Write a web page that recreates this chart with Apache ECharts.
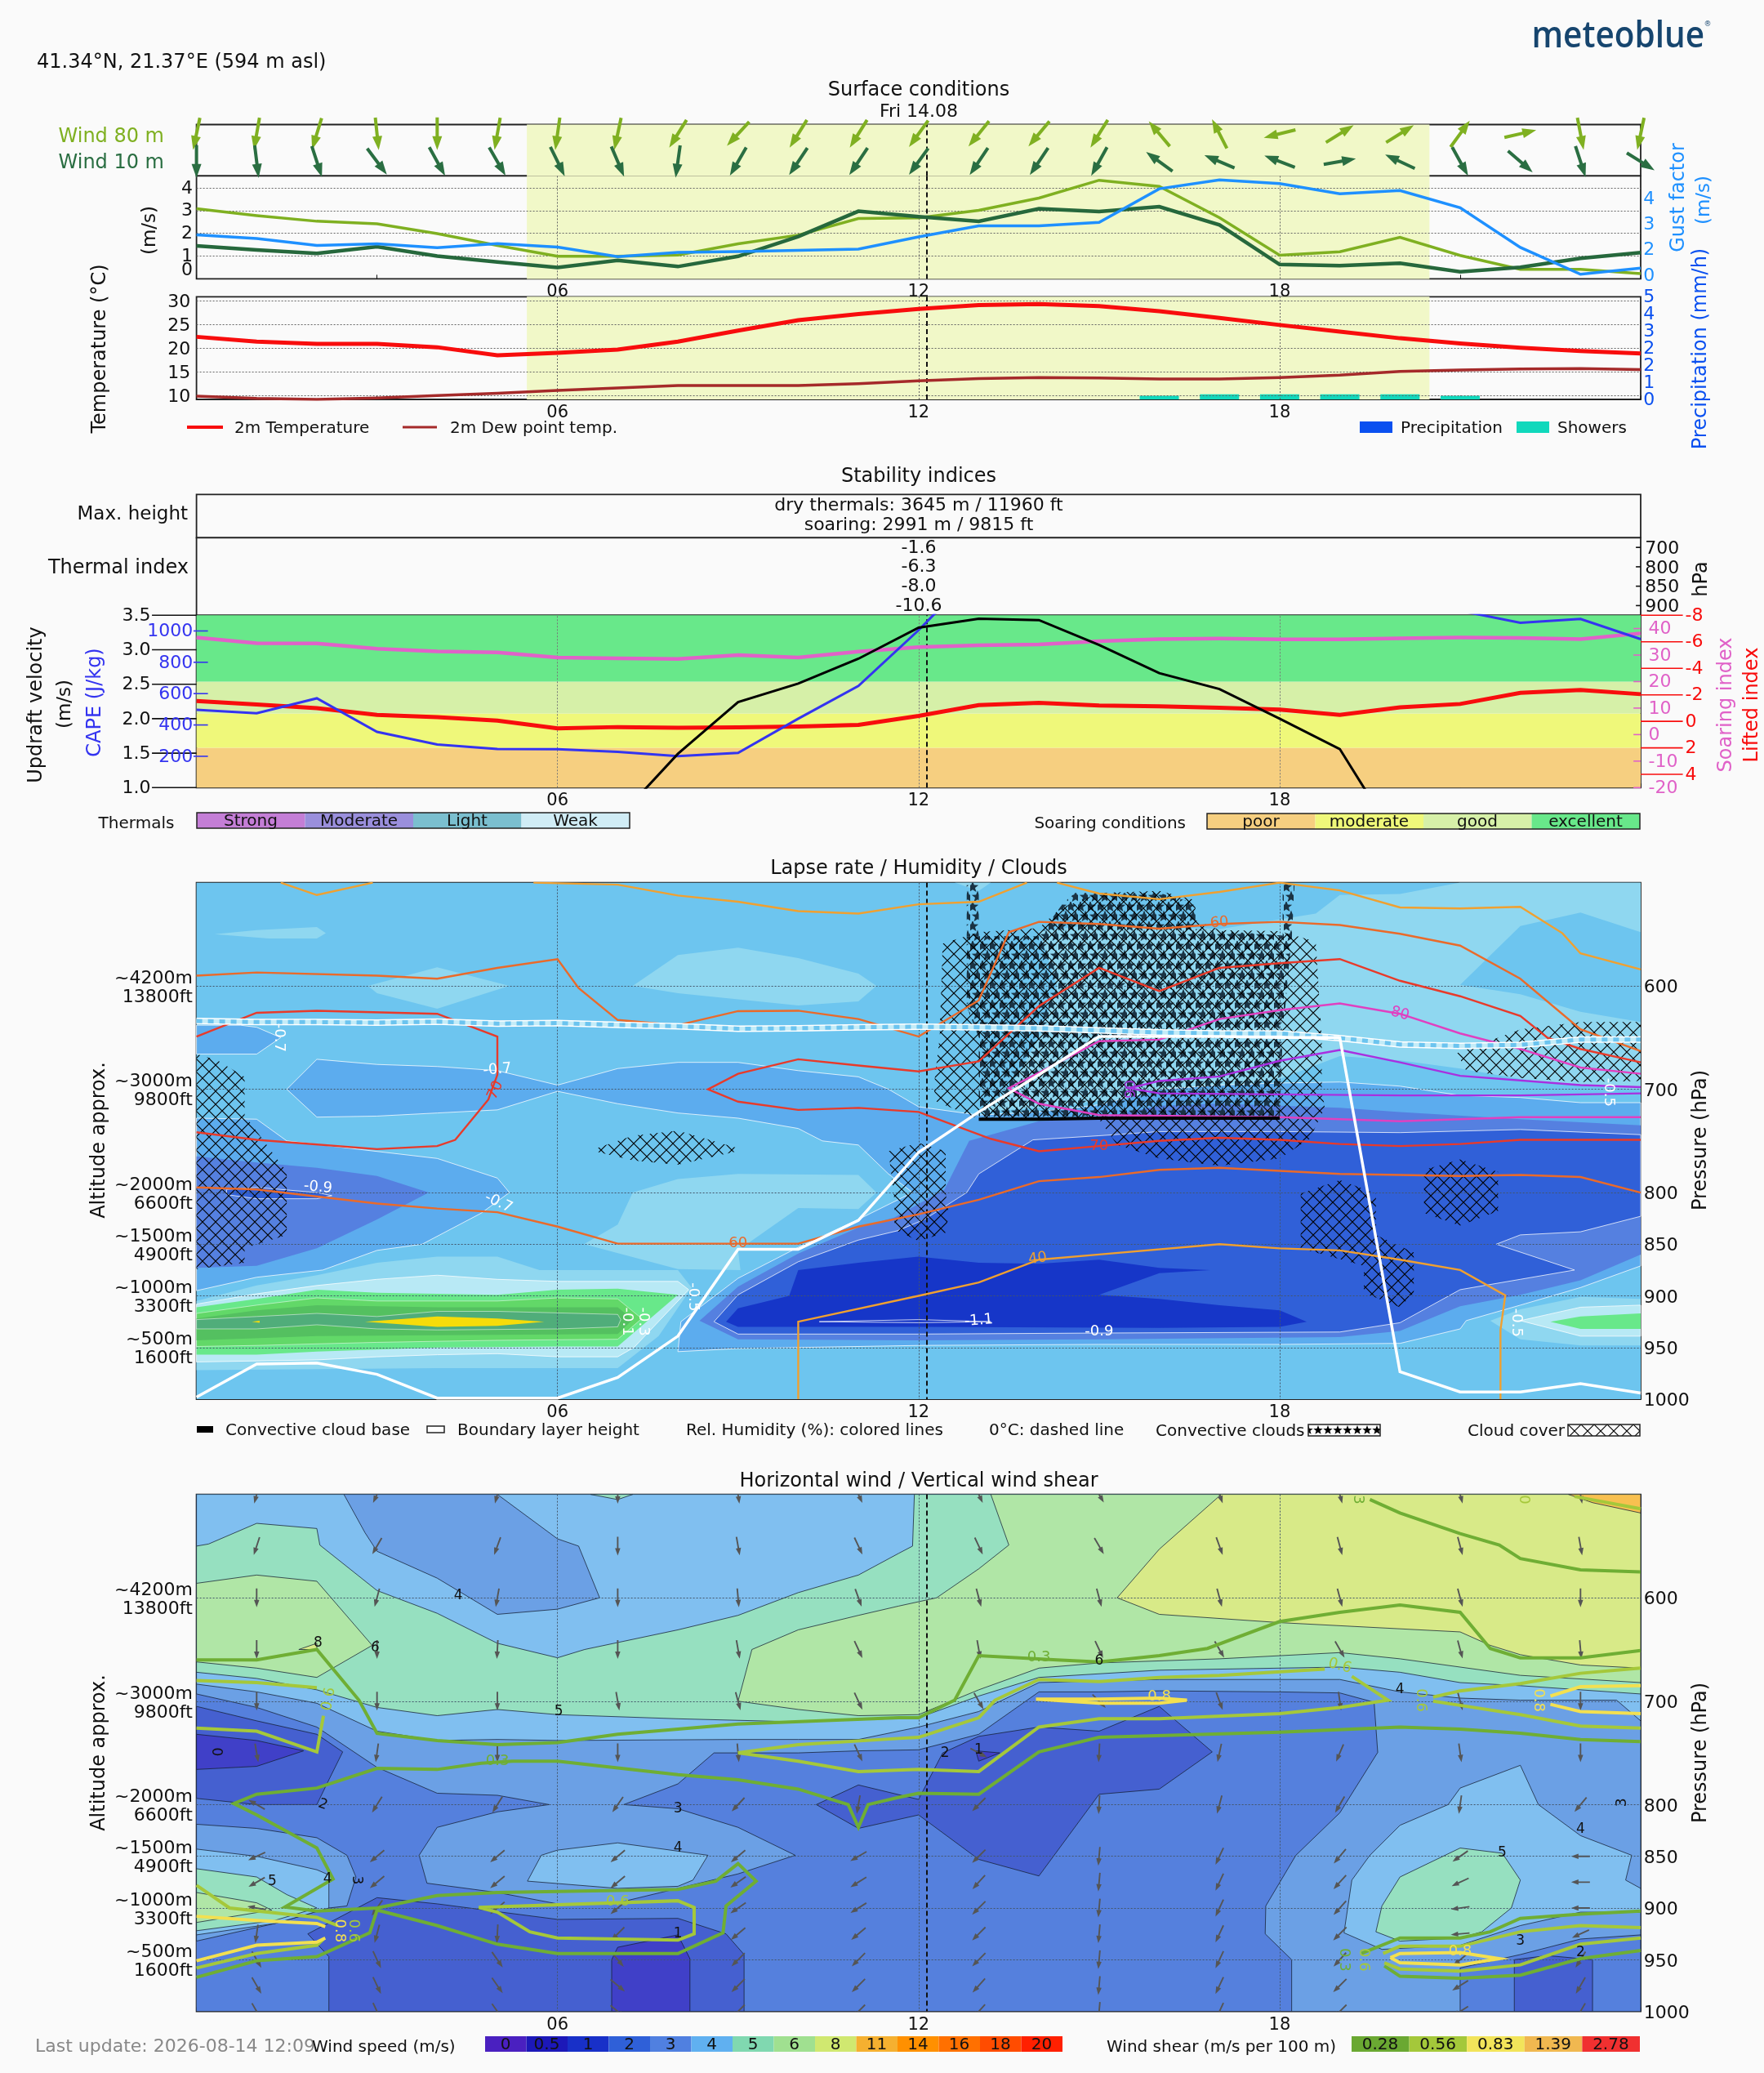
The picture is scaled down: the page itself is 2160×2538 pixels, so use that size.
<!DOCTYPE html>
<html><head><meta charset="utf-8"><style>html,body{margin:0;background:#fafafa}#c{width:2160px;height:2538px}</style>
<script src="https://cdn.jsdelivr.net/npm/echarts@6/dist/echarts.min.js"></script></head><body><div id="c"></div><script>
const hours=[0,1,2,3,4,5,6,7,8,9,10,11,12,13,14,15,16,17,18,19,20,21,22,23,24];
const hourLabels={6:'06',12:'12',18:'18'};
const sunrise=5.49,sunset=20.49,nowHour=12.13;
// surface
const bearing80=[192,190,197,174,180,190,188,192,212,223,212,212,216,219,220,212,320,333,256,58,58,36,77,169,192];
const bearing10=[180,173,162,143,151,150,154,157,188,210,214,214,216,214,214,209,306,293,291,80,295,151,131,162,122];
const windRows=[0.82,0.28];
const wind80=[3.08,2.78,2.53,2.42,1.99,1.47,.99,.99,1.05,1.54,1.92,2.65,2.68,3.01,3.55,4.33,4.06,2.69,1.04,1.19,1.82,1.03,.42,.42,.23];
const wind10=[1.45,1.27,1.12,1.41,1.0,.74,.5,.81,.54,.99,1.86,2.97,2.73,2.53,3.08,2.96,3.17,2.37,.63,.58,.69,.31,.51,.9,1.15];
const gust=[2.33,2.12,1.71,1.8,1.57,1.81,1.61,1.04,1.3,1.35,1.42,1.49,2.21,2.87,2.87,3.07,5.06,5.58,5.37,4.77,4.96,3.94,1.59,0,.36];
const temp2m=[22.4,21.4,20.9,20.9,20.2,18.5,19,19.7,21.4,23.7,25.9,27.2,28.3,29.1,29.3,28.9,27.8,26.4,24.9,23.5,22.1,21,20.1,19.4,18.9];
const dew2m=[9.9,9.4,9.2,9.5,10,10.5,11.1,11.6,12.1,12.1,12.1,12.5,13.1,13.6,13.8,13.7,13.5,13.5,13.8,14.3,15.1,15.4,15.6,15.7,15.5];
const showers=[[16,.18],[17,.25],[18,.25],[19,.25],[20,.25],[21,.18]];
const msTicks=[4,3,2,1,.39],msTickLabels=['4','3','2','1','0'];
const tempTicks=[10,15,20,25,30];
const gustTicks=[0,1.5,3,4.5],gustTickLabels=['0','2','3','4'];
const precipTicks=[0,.8333,1.6667,2.5,3.3333,4.1667,5],precipTickLabels=['0','1','2','2','3','4','5'];
// stability
const updraft=[null,null,null,null,null,null,null,.55,1.49,2.24,2.51,2.87,3.32,3.45,3.43,3.07,2.66,2.43,2.0,1.56,.16,null,null,null,null];
const cape=[497,475,570,356,275,247,245,228,201,222,440,649,1005,1396,1500,1500,1500,1500,1500,1500,1500,1129,1052,1077,948];
const soaring=[36.6,34.5,34.4,32.4,31.4,31,29.1,28.8,28.5,30,29.1,31.3,33,33.7,34,35.2,36,36.2,35.9,35.9,36.3,36.6,36.5,36,38.2];
const lifted=[-1.54,-1.27,-1,-.49,-.31,-.06,.53,.43,.49,.45,.39,.27,-.41,-1.23,-1.39,-1.19,-1.13,-1.03,-.88,-.49,-1.05,-1.31,-2.15,-2.36,-2.05];
const soaringLimits=[-20,-5,8,20,45];
const updraftTicks=[1,1.5,2,2.5,3,3.5],capeTicks=[200,400,600,800,1000],soaringTicks=[-20,-10,0,10,20,30,40],liftedTicks=[-8,-6,-4,-2,0,2,4];
const thermalHpa=['900','850','800','700'];
const thermalIndex=['-1.6','-6.3','-8.0','-10.6'];
const levelLabels=[[600,'~4200m\n13800ft'],[700,'~3000m\n9800ft'],[800,'~2000m\n6600ft'],[850,'~1500m\n4900ft'],[900,'~1000m\n3300ft'],[950,'~500m\n1600ft']];
const pressureTicks=[600,700,800,850,900,950,1000];
// lapse-rate bands [hour,hPa]
const lpFull=[[0,500],[24,500],[24,1000],[0,1000]];
const lpA=[[.3,550],[1,546],[2,543],[2.15,549],[2,554],[1.2,554]];
const lpB=[[2.85,600],[4,582],[5.2,600],[4,622],[3,607]];
const lpC=[[7.25,600],[8,570],[9,563],[10,573],[11,588],[11.3,600],[11,615],[10,619],[8,607]];
const lpD=[[6.44,850],[7,831],[7.25,800],[8,787],[9,782],[11,783],[11.3,800],[11,816],[10,815],[9,856],[9.04,875],[8,874]];
const lpTopL=[[14,547],[15,540],[17,545],[18.6,530],[19,512],[20,511],[21,500],[24,500],[24,700],[23,697],[22,690],[21,680],[20,672],[19,668],[18,690],[16,705],[14,718],[13,722],[13.5,700],[14,650],[14.3,600]];
const lpTopIsland=[[21,599],[22,542],[23,529],[24,548],[24,635],[23,625],[22,608]];
const lpTopTip=[[12.6,500],[13.2,500],[13,508]];
const lpMmain=[[1.5,700],[2,671],[3,676],[4,678],[5,682],[6,696],[7,680],[8,674],[9,674],[10,682],[11,688],[11.5,700],[12,717],[13,725],[14,722],[15,715],[16,700],[17,696],[18,694],[19,693],[20,697],[21,706],[22,708],[23,713],[24,713],[24,871],[23,892],[22,909],[21.1,924],[21,932],[20,946],[18,947],[15,947],[12,948],[10,950],[9,951],[8,954],[8.05,925],[9,883],[10,853],[11,826],[11.9,800],[11.5,782],[11,754],[10.4,750],[10,738],[9,728],[8,723],[7,714],[6,702],[5,720],[4,723],[3,726],[2,727]];
const lpMleft=[[0,728],[1,729],[1.5,750],[4,767],[5,786],[5.2,800],[4.73,820],[3.75,850],[3,856],[2.1,875],[1,882],[0,895]];
const lpMtop=[[0,638],[.73,638],[1,640],[1.4,650],[1,666],[0,666]];
const lpD5left=[[0,765],[1,771],[2,776],[3,784],[3.86,800],[3,826],[2,854],[1,871],[0,873]];
const lpD6left=[[.5,797],[1,795],[2,800],[2.25,803],[2,806],[1,806],[.5,802]];
const lpD5=[[8.36,924],[9,891],[10,859],[11,834],[11.6,824],[12.43,797],[12.84,750],[14,731],[15,728],[16,716],[17,714],[18,716],[19,718],[20,722],[22,729],[24,735],[24,860],[23,885],[22,899],[21,910],[20,934],[19,940],[15,942],[12,943],[9,942]];
const lpD6=[[8.6,925],[9,899],[10,867],[11,846],[11.65,837],[12.1,826],[12.8,800],[13,782],[13.9,749],[15,745],[16,741],[18,741],[20,742],[22,739],[24,744],[24,823],[23,838],[22,841],[21.6,850],[22.9,875],[22,884],[21,894],[20,926],[19,935],[15,936],[12,937],[9,937]];
const lpD7=[[8.8,925],[9,912],[9.85,900],[10,875],[11,868],[12,862],[13,868],[14,869],[15,865],[16,873],[16.85,875],[16,878],[15,899],[16,903],[17,909],[18,914],[18.45,925],[18,930],[16,931],[12,930],[9,930]];
const lpLens=[[10.35,925],[12,923],[13.2,925],[12,926]];
const lpL1=[[0,905],[1,890],[2,880],[3,868],[4,862],[5,862],[5.7,875],[8,875],[8.23,892],[7.68,939],[7,970],[4,970],[0,972]];
const lpL2=[[0,908],[1,898],[2,890],[3,884],[4,880],[5,884],[6,886],[8,886],[8.18,894],[7.27,950],[7,959],[6,959],[5,956],[4,957],[3,959],[2,962],[1,963],[0,964]];
const lpG1=[[0,911],[1,903],[2,894],[3,897],[5,899],[6,894],[7,893],[8,899],[7,949],[6,949],[4,950],[2,954],[1,957],[0,957]];
const lpG2=[[0,917],[1,909],[2,902],[3,905],[5,905],[6,902],[7,903],[7.4,922],[7,942],[5,943],[3,945],[1,948],[0,949]];
const lpG3=[[0,922],[1,914],[2,909],[4,911],[7,911],[7.25,923],[7,937],[2,939],[0,943]];
const lpG4=[[0,923],[1,920],[2,917],[3,920],[4,915],[5,915],[7,918],[7.05,923],[7,930],[6,932],[4,933],[3,932],[2,928],[1,932],[0,932]];
const lpY1=[[2.8,925],[4,920],[5,922],[5.78,925],[5,929],[4,930]];
const lpY2=[[.92,925],[1.05,924],[1.05,926]];
const lpRL1=[[21.5,924],[22,913],[23,901],[24,903],[24,948],[23,948],[22,942]];
const lpRL2=[[22,924],[23,911],[24,909],[24,939],[23,939]];
const lpRG1=[[22.5,925],[23,920],[24,917],[24,932],[23,932]];
// clouds
const cloud1=[[0,666],[.35,672],[.8,688],[.8,725],[1.5,780],[1.5,841],[.8,854],[.8,868],[0,874]];
const cloud2=[[6.55,759],[7.25,745],[8,740],[9,757],[9.06,759],[8,773],[7.25,769]];
const cloud3=[[12,752],[12.45,760],[12.45,800],[12.5,821],[12.45,839],[12,847],[11.6,836],[11.6,808],[11.5,760]];
const cloud4=[[15,510],[16,508],[16.6,517],[16.6,536],[17,546],[18,547],[18.6,557],[18.7,650],[18.7,700],[18.75,718],[18.5,748],[18,767],[17,774],[16,767],[15.3,754],[15,729],[13,729],[12.3,712],[12.25,699],[12.35,650],[12.4,559],[13,548],[14,544],[14.35,525]];
const cloud5=[[20.95,665],[22,642],[23,635],[24,635],[24,692],[23,693],[22,689],[21.1,682]];
const cloud6=[[20.4,778],[21,768],[21.63,780],[21.63,818],[21,832],[20.4,820]];
const cloud7=[[18.35,801],[19,788],[19.6,801],[19.6,841],[20.23,858],[20.23,897],[20,911],[19.4,897],[19.4,871],[18.35,854]];
const convLeft=[[12.8,500],[13,500],[13,552],[12.8,552]];
const convRight=[[18.05,500],[18.25,500],[18.2,556],[18.05,556]];
const convMain=[[12.8,552],[14,552],[14.4,520],[14.6,510],[16,510],[16.6,520],[16.6,545],[18.2,552],[18.05,650],[18,729],[13,729],[13,650],[12.8,620]];
// lines
const freezing=[634,635,635,635.5,634.6,636.5,636,637.7,639,641.5,641,640,639.5,640,641,643,645,646,646,650.5,656.6,658,657,652,652];
const boundaryH=[998,966,965,976,999,999,999,979,939,855,855,827,761,722,686,649,649,649,650,650,973.5,993,993,985,994];
const cloudBase=[[13,729],[14,729],[15,728],[16,728],[17,728],[18,728]];
const rhTopA=[[1.4,500],[2,512],[2.93,500]];
const rhTopB=[[5.6,500],[7,502],[8,512.5],[9,518.5],[10,527.6],[11,530],[12,521],[13,518.5],[13.8,500]];
const rhTopC=[[14.3,500],[15,510.6],[16,516],[17,509],[18,500],[19,507.5],[20,524],[21,525],[22,523.5],[22.7,549],[23,568.5],[24,584]];
const rh60up=[[0,590],[1,587],[3,590],[4,593],[5,582.5],[6,574],[6.35,602],[7,633],[8,638],[9,624.4],[10,624],[11,632],[12,649],[13,614],[13.5,548],[14,538],[15,540],[16,544.6],[17,540],[18,538],[19,541],[20,549.5],[21,561],[22,593],[23,642],[24,663]];
const rh70left=[[0,649],[1,626],[2,624],[4,627],[5,649],[5,686],[4.85,710],[4.3,749],[4,755],[3,758],[1,749],[0,741.7]];
const rh70mid=[[24,674],[23,661],[22.45,650],[22,629],[21,610],[20,595],[19,574],[18,578],[17,582.5],[16,605],[15,582.5],[14,619.5],[13,673],[12,682.7],[11,677],[10,671],[9,685],[8.5,700],[9,712],[10,720],[11,718],[12,722],[13.2,748],[14,760],[15,755],[16,750],[17,747],[18,749],[19,753],[20,755],[21,753],[22,749],[24,749]];
const rh60low=[[0,795],[1,797],[3,810.6],[4,815.5],[5,819],[6,833],[7,849.5],[10,849.5],[11,833],[12,821],[13,807],[14,789],[15,785],[16,778],[17,776],[18,779],[19,782],[20,783],[21,784],[22,783],[23,785],[24,800]];
const rh40=[[10,1000],[10,925],[12,900],[13,887],[14,865],[15,860],[17,850],[18,854],[19,856],[20,865],[21,875],[21.75,899.5],[21.67,933],[21.67,1000]];
const rh80=[[24,685],[23,679],[22,661],[21,646],[20,627],[19,617],[18,623.5],[17,632],[16,652],[15,653.5],[14,684],[13.5,699],[14,714],[15,725],[18,727],[20,731],[22,727],[24,727]];
const rh90=[[24,698],[23,696],[21,687],[20,674],[19,662],[18,672.5],[17,687.6],[16,692],[15.5,699],[16,704],[18,705],[20,706],[22,706],[24,704]];
const lapseLabels=[[1.37,650,'-0.7',-90],[5,681,'-0.7',5],[2.02,795,'-0.9',-5],[5.02,810,'-0.7',-25],[8.25,901,'-0.5',-90],[7.43,925,'-0.3',-90],[7.15,925,'-0.1',-90],[13,924,'-1.1',5],[15,935,'-0.9',0],[21.93,926,'-0.5',-90],[23.46,703,'-0.5',-90]];
const rhLabels=[[4.97,701,'70','#e83a2a',65],[9,849.5,'60','#ea6a2a',0],[17,539,'60','#ea6a2a',5],[20,627,'80','#e040c0',-15],[15,755,'70','#e83a2a',0],[13.98,864,'40','#f0a030',8],[15.53,700,'90','#a030d8',90]];
// wind speed bands
const wsFull=lpFull;
const wsU3=[[0,500],[0,693],[1,706],[2,725],[3,764],[4,789],[5,791],[5.86,800],[5,807],[4,822],[3.7,849],[3.83,876],[5,885],[6,896],[7,895],[8,881],[9,867],[9.95,849],[9,822],[8,804],[7.1,800],[8,780],[8.6,750],[10,750],[11,748],[12,747],[13,732],[14,691],[15,691],[16,690],[18,691],[19,692],[19.57,701],[19.63,749.5],[19,808],[18.27,849],[17.77,898],[17.76,925],[18.2,950],[18.2,1000],[24,1000],[24,500]];
const wsU4=[[0,500],[0,683.5],[1,691],[2,702],[3,729],[4,738],[5,737],[6,738],[9,737],[10,737],[11,737],[12,725],[13,710],[14,682],[16,679],[18,679],[19,679],[20,691],[21,697],[22,699],[23.6,699],[24,719],[24,500]];
const wsU5=[[0,500],[0,672],[1,678],[2,689],[3,706],[4,714],[5,708],[6,713],[8,717],[10,720],[11,718],[12,716],[13,695],[14,677],[16,670],[19,667],[20,672],[21,682],[22,685],[24,693],[24,500]];
const wsT4=[[0,500],[0,550],[.2,548],[1,528],[2,533],[2.05,549],[3,593],[4,615],[5,644],[6,658],[6.45,650],[8,631],[9,617],[10,595],[11,578],[11.67,557],[11.9,550],[11.93,500]];
const wsT3=[[2.45,500],[2.8,537],[3,555],[4,581],[5,616],[6,611],[6.7,600],[6.35,550],[6,543],[5,500]];
const wsT5=[[6.55,500],[7,505],[7.25,500]];
const wsU6left=[[0,586],[1,578],[2,584],[2.92,646],[2,677],[1,668],[0,662]];
const wsU6=[[9,700],[9.23,650],[10,631],[11,617],[11.67,608],[12.3,600],[13,572],[13.5,549],[13.2,500],[24,500],[24,682],[22,675],[21,667],[20,659],[19,653],[17,659],[15,663],[14,668],[13,689],[12,713],[11,714],[10,708]];
const wsU8=[[17.03,500],[16,553],[15.3,600],[16,616],[18,624],[21,633],[21.5,646],[22,655],[23,665],[24,668],[24,500]];
const wsOrange=[[22.8,500],[23.2,508],[24,518],[24,500]];
const wsTip=[[1.7,650],[2,644],[2,650]];
const wsL3=[[0,819],[1,823],[2,832],[2.5,849],[2.65,870],[2.5,898],[2.2,900],[1.3,915],[0,932]];
const wsL4=[[0,843],[1,850],[2,863],[2.2,868],[2.2,900],[1.3,915],[0,926]];
const wsL5=[[0,862],[1,870],[1.5,887],[2,900],[1.3,912],[0,922]];
const wsL6=[[0,885],[1,895],[1.25,902],[0,914]];
const wsC4=[[5.5,874],[5.73,849],[6,844],[7,837],[8.5,849],[8.25,873],[8,879],[7,881]];
const wsR4=[[22,762],[21,784],[20.8,800],[20,820],[19.5,849],[19.2,873],[19.07,924],[19.7,940],[21,936],[22,917],[23,904],[24,904],[24,881],[23.75,873],[23.85,849],[23,830],[22.3,800]];
const wsR5=[[21,842],[21.7,847],[22,873],[21.85,900],[21.36,923],[21,929],[20,932],[19.6,923],[19.7,898],[20,870]];
const wsD2a=[[0,705],[1,719],[2,732],[2.43,749],[2.2,776],[2,800],[1,800],[0,794]];
const wsD1a=[[0,732],[1,738],[1.78,748],[1,763],[0,766]];
const wsD2b=[[1.85,925],[3,890],[4,896],[6,911],[8,910],[8.8,925],[9.1,945],[9.1,1000],[2.2,1000],[2.2,947]];
const wsD1b=[[6.9,1000],[6.9,950],[7,938],[8,926],[8.2,949],[8.2,1000]];
const wsD2c=[[14,725],[15,729],[16,705],[16.88,749],[16,785],[15,790],[14,869],[13,853],[12,810],[11,823],[10.3,800],[11,781],[12,795],[12.4,750],[13,734]];
const wsD1c=[[12.95,748],[13.35,750],[13,758]];
const wsR3=[[21,1000],[21,958],[22,945],[23,930],[24,926],[24,1000]];
const wsD2d=[[21.9,1000],[21.9,950],[22.45,946],[23.2,950],[23.2,1000]];
// wind shear lines
const sh03a=[[0,660],[1,660],[2,650],[2.7,699],[3,731],[4,738],[5,742],[6,740],[7,732],[9,722],[11.67,716],[12,716],[12.6,699],[13,656],[14.3,660],[15,662],[16,656],[16.8,649],[18,623],[19,614],[20,607],[21,614],[21.5,649],[22,658],[23,658],[24,651]];
const sh03b=[[19.5,505],[20,518],[21,538],[21.65,549],[22,562],[23,573],[24,575]];
const sh03c=[[24,739],[23,737],[22,731],[21,727],[20,725],[18,730],[15,735],[14,749],[13,790],[12,789],[11.67,793],[11.16,800],[11,822],[10.83,800],[10,785],[9,776],[8,771],[6,758],[5.25,758],[4.73,760],[4,766],[3,765],[2,784],[1,790],[.62,799],[1,810],[2,842],[2.27,872],[1.47,899],[2,903],[3,900],[4,888],[5,885],[6,884],[8,882],[8.63,874],[9,857],[9.3,874],[8.8,898],[8.75,924],[8,944],[6,944],[5,935],[4,917],[3,902],[2.88,924],[2,947],[1,951],[0,967]];
const sh03d=[[19.36,944],[20,929],[21,929],[21.5,923],[22,910],[23,906],[24,903]];
const sh03e=[[19.74,956],[20,966],[21,968],[22,965],[23,949],[24,941]];
const sh06a=[[0,680],[1,682],[2,687]];
const sh06a2=[[2.11,714],[2,749],[1,729],[0,726]];
const sh06b=[[9,750],[10,742],[11.67,736],[12,735],[13,716],[13.27,699],[14,679],[15,681],[16,677],[17,675],[18.75,669]];
const sh06b2=[[19.2,676],[19.8,699],[19,706],[18,712],[16,717],[15,717],[14,725],[13,768],[12,766],[11,768],[10,758],[9,750]];
const sh06c=[[20.55,696],[21,690],[22,683],[23,673],[24,668]];
const sh06d=[[20.55,700],[21,704],[22,713],[23,724],[24,726]];
const sh06e=[[0,878],[.55,900],[2,909],[2.35,917]];
const sh06e2=[[2.11,930],[2,936],[1,944],[0,958]];
const sh06f=[[4.69,899.5],[8,893],[8.27,899.5],[8.27,925],[8,931],[6,929],[5.54,923],[5,904],[4.69,899.5]];
const sh06g=[[19.72,944],[20,937],[21,937],[22,923],[23,917],[24,919]];
const sh06h=[[19.74,953],[20,959],[21,961],[22,955],[23,935],[24,929]];
const sh06i=[[22.9,502],[24,514]];
const sh08a=[[13.95,698],[15,698],[16,697],[16.46,699],[16,702],[15,702],[13.95,698]];
const sh08b=[[22.5,695],[23,686],[24,685]];
const sh08b2=[[22.5,703],[23,710],[24,712]];
const sh08c=[[0,908],[1,912],[2,915],[2.14,918]];
const sh08c2=[[2.14,929],[2,933],[1,936],[0,951]];
const sh08d=[[19.84,948],[20,944],[21,943],[21.65,949],[21,955],[20,953],[19.84,948]];
const speedLabels=[[4.35,598,'4',0],[2.02,644,'8',0],[2.97,648,'6',-10],[6.02,710,'5',0],[.38,749,'0',90],[2.1,800,'2',-20],[8,804,'3',0],[8,842,'4',0],[1.26,874,'5',0],[2.18,872,'4',0],[2.66,873,'3',-90],[8,925,'1',0],[12.44,750,'2',0],[13,747,'1',0],[15,661,'6',0],[20,689,'4',0],[21.7,847,'5',0],[22,932,'3',0],[23,943,'2',0],[23,824,'4',0],[23.7,798,'3',90]];
const shearLabels=[[5,758,'0.3','#6fae34',0],[14,658,'0.3','#6fae34',0],[7,894,'0.6','#a5c83a',0],[19,666,'0.6','#a5c83a',-15],[16,696,'0.8','#f3e050',0],[21,942,'0.8','#f3e050',0],[20.34,699,'0.6','#a5c83a',-90],[22.3,699,'0.8','#f3e050',-90],[2.2,698,'0.6','#a5c83a',80],[2.37,922,'0.8','#f3e050',-90],[2.6,922,'0.6','#a5c83a',-90],[19.3,505,'3','#6fae34',-90],[22.05,505,'0','#a5c83a',-90],[19.07,950,'0.3','#6fae34',-90],[19.4,950,'0.6','#a5c83a',-90]];
// wind vectors
const windHours=[1,3,5,7,9,11,13,15,17,19,21,23];
const windLevels=[500,550,600,650,700,750,800,850,875,900,925,950,975,1000];
const windBearing=[
[195,205,195,180,172,155,155,150,160,165,165,170],
[198,210,200,180,170,155,155,150,160,165,165,170],
[180,195,190,180,175,160,165,165,165,165,165,180],
[180,180,183,180,170,155,170,155,150,150,165,175],
[180,180,180,170,165,155,150,135,160,172,165,180],
[170,188,180,180,175,155,118,183,192,203,172,180],
[300,212,212,215,223,190,225,183,195,210,188,220],
[245,230,230,230,230,240,225,185,205,220,235,270],
[240,230,230,230,235,238,222,185,205,222,245,270],
[280,215,230,230,235,238,225,185,205,222,262,270],
[188,195,183,225,230,230,225,185,205,225,265,245],
[150,155,145,140,225,225,225,185,205,222,230,212],
[150,155,145,130,225,225,222,185,205,225,238,210],
[150,155,145,130,225,225,222,185,205,225,238,210]];
const speedBar=['0','0.5','1','2','3','4','5','6','8','11','14','16','18','20'];
const shearBar=['0.28','0.56','0.83','1.39','2.78'];

/* ---- drawing ---- */
const FF='"DejaVu Sans"',TXT='#111';
const font=(s,w)=>(w?w+' ':'')+s+'px '+FF;
const chart=echarts.init(document.getElementById('c'),null,{renderer:'canvas',width:2160,height:2538});
const mk=(w,h,fn)=>{const c=document.createElement('canvas');c.width=w;c.height=h;fn(c.getContext('2d'));return c;};
const hatchTile=mk(16,16,g=>{g.strokeStyle='#000';g.lineWidth=1.15;g.beginPath();g.moveTo(-1,-1);g.lineTo(17,17);g.moveTo(17,-1);g.lineTo(-1,17);g.stroke();});
function star(g,cx,cy,r){g.beginPath();for(let i=0;i<10;i++){const a=-Math.PI/2+i*Math.PI/5,q=i%2?r*.42:r;g[i?'lineTo':'moveTo'](cx+q*Math.cos(a),cy+q*Math.sin(a));}g.closePath();g.fill();}
const starTile=mk(12,24,g=>{g.fillStyle='#1a3344';star(g,3,6,7.5);star(g,9,18,7.5);});
const legendStarTile=mk(12,14,g=>{g.fillStyle='#000';star(g,6,1,6);star(g,6,15,6);});
const hatchFill={image:hatchTile,repeat:'repeat'},starFill={image:starTile,repeat:'repeat'},legendStarFill={image:legendStarTile,repeat:'repeat'};

const L={base:'#6dc5ef',l1:'#8fd7f0',l2:'#b8e9f5',m:'#5cacee',d5:'#5580e0',d6:'#3060d8',d7:'#1636c8',g1:'#68e88a',g2:'#62d868',g3:'#54c060',g4:'#50ad7a',y:'#f6dc0a'};
const WS=['#4040c8','#4560d0','#5580dd','#6ba0e5','#80bff0','#96e0c0','#b0e6a6','#d8ea88','#f8c050'];
const W1='rgba(255,255,255,.75)',K1='rgba(20,30,50,.75)';
const lapseBands=[[lpFull,L.base],[lpA,L.l1],[lpB,L.l1],[lpC,L.l1],[lpD,L.l1],[lpTopL,L.l1],[lpTopIsland,L.base],[lpTopTip,L.l1],[lpMmain,L.m,W1],[lpMleft,L.m,W1],[lpMtop,L.m,W1],[lpD5left,L.d5],[lpD6left,L.d6,W1],[lpD5,L.d5],[lpD6,L.d6,W1],[lpD7,L.d7],[lpLens,L.d7,W1],[lpL1,L.l1],[lpL2,L.l2,W1],[lpG1,L.g1],[lpG2,L.g2,'rgba(255,255,255,.5)'],[lpG3,L.g3],[lpG4,L.g4,'rgba(255,255,255,.5)'],[lpY1,L.y],[lpY2,L.y],[lpRL1,L.l1],[lpRL2,L.l2,W1],[lpRG1,L.g1]];
const windBands=[[wsFull,WS[2]],[wsU3,WS[3],K1],[wsU4,WS[4],K1],[wsU5,WS[5],K1],[wsT4,WS[4],K1],[wsT3,WS[3],K1],[wsT5,WS[5],K1],[wsU6left,WS[6],K1],[wsU6,WS[6],K1],[wsU8,WS[7],K1],[wsOrange,WS[8],K1],[wsTip,WS[7],K1],[wsL3,WS[3],K1],[wsL4,WS[4],K1],[wsL5,WS[5],K1],[wsL6,WS[6],K1],[wsC4,WS[4],K1],[wsR4,WS[4],K1],[wsR5,WS[5],K1],[wsD2a,WS[1],K1],[wsD1a,WS[0],K1],[wsD2b,WS[1],K1],[wsD1b,WS[0],K1],[wsD2c,WS[1],K1],[wsD1c,WS[0],K1],[wsR3,WS[2],K1],[wsD2d,WS[1],K1]];
const clouds=[cloud1,cloud2,cloud3,cloud4,cloud5,cloud6,cloud7];
const conv=[convLeft,convRight,convMain];

const X0=240.6,XW=1768.4;
const grids=[[152.5,62.9],[215.4,126],[363.3,125.7],[605.3,53],[658.3,95],[753.3,211],[1080.6,632.4],[1829.6,633]];
const labelGrids={1:1,2:1,5:1,6:1,7:1};
const series=[];
const pair=a=>a.map((v,i)=>[hours[i],v]);
function lineS(x,y,data,color,width,z,extra){series.push(Object.assign({type:'line',xAxisIndex:x,yAxisIndex:y,data,symbol:'none',showSymbol:false,silent:true,animation:false,z:z||5,lineStyle:{color,width,cap:'butt',join:'miter'},connectNulls:false},extra||{}));}
function polyS(x,y,items,z){series.push({type:'custom',xAxisIndex:x,yAxisIndex:y,clip:true,silent:true,animation:false,z,data:items.map((_,i)=>[i,0]),renderItem(p,api){const it=items[p.dataIndex];return{type:'polygon',shape:{points:it[0].map(q=>api.coord(q))},style:{fill:it[1],stroke:it[2]||null,lineWidth:1}};}});}
function textS(x,y,items,z,styleOf){series.push({type:'custom',xAxisIndex:x,yAxisIndex:y,clip:false,silent:true,animation:false,z,data:items.map((_,i)=>[i,0]),renderItem(p,api){const it=items[p.dataIndex],c=api.coord([it[0],it[1]]),s=styleOf(it);return{type:'text',x:c[0],y:c[1]+(s.dy||0),rotation:(s.rot||0)*Math.PI/180,style:{text:it[2],fill:s.fill,font:s.font,align:s.align||'center',verticalAlign:'middle',lineHeight:s.lh}};}});}
function tickS(x,y,values,h0,h1,color,z){series.push({type:'custom',xAxisIndex:x,yAxisIndex:y,clip:false,silent:true,animation:false,z:z||6,data:values.map((v,i)=>[i,0]),renderItem(p,api){const v=values[p.dataIndex],a=api.coord([h0,v]),b=api.coord([h1,v]);return{type:'line',shape:{x1:a[0],y1:a[1],x2:b[0],y2:b[1]},style:{stroke:color,lineWidth:1.6}};}});}
function arrowPts(c,b,len,sw,hw,hl){const r=b*Math.PI/180,ux=Math.sin(r),uy=-Math.cos(r),nx=-uy,ny=ux,t=[c[0]-ux*len/2,c[1]-uy*len/2],h=[c[0]+ux*len/2,c[1]+uy*len/2],n=[h[0]-ux*hl,h[1]-uy*hl];
 return [[t[0]+nx*sw/2,t[1]+ny*sw/2],[n[0]+nx*sw/2,n[1]+ny*sw/2],[n[0]+nx*hw/2,n[1]+ny*hw/2],h,[n[0]-nx*hw/2,n[1]-ny*hw/2],[n[0]-nx*sw/2,n[1]-ny*sw/2],[t[0]-nx*sw/2,t[1]-ny*sw/2]];}
function arrowS(x,y,items,color,len,sw,hw,hl,clip,z){series.push({type:'custom',xAxisIndex:x,yAxisIndex:y,clip,silent:true,animation:false,z,data:items.map(a=>[a[0],a[1],a[2]]),renderItem(p,api){const c=api.coord([api.value(0),api.value(1)]);return{type:'polygon',shape:{points:arrowPts(c,api.value(2),len,sw,hw,hl)},style:{fill:color}};}});}
function marks(x,y,opts){series.push({type:'line',xAxisIndex:x,yAxisIndex:y,data:[],silent:true,animation:false,z:opts.z||3,markLine:opts.lines?{symbol:'none',silent:true,animation:false,label:{show:false},data:opts.lines}:undefined,markArea:opts.areas?{silent:true,animation:false,label:{show:false},data:opts.areas}:undefined});}
const dot=(c)=>({color:c||'#555',width:1,type:[2,2]});
const vLines=(c)=>[6,12,18].map(v=>({xAxis:v,lineStyle:dot(c)}));
const nowLine={xAxis:nowHour,lineStyle:{color:'#111',width:2,type:[6,4]}};
const dayArea=[[{xAxis:sunrise,itemStyle:{color:'#f1f8c8',opacity:1}},{xAxis:sunset}]];
const tickText=(fill,align,dy)=>()=>({fill,font:font(22),align,dy:dy===undefined?2:dy});

// panel 0 wind arrows
marks(0,0,{areas:dayArea,z:1});marks(0,0,{lines:[nowLine],z:3});
arrowS(0,0,hours.map((h,i)=>[h,windRows[0],bearing80[i]]),'#7fb021',40,4,12,17,false,6);
arrowS(0,0,hours.map((h,i)=>[h,windRows[1],bearing10[i]]),'#2a6e42',40,4,12,17,false,6);
// panel 1
marks(1,1,{areas:dayArea,z:1});marks(1,1,{lines:[...[1,2,3,4].map(v=>({yAxis:v,lineStyle:dot('#666')})),...vLines('#666'),nowLine],z:3});
lineS(1,1,pair(wind80),'#7fb021',3.5,5);lineS(1,1,pair(wind10),'#26683c',4.5,6);lineS(1,2,pair(gust),'#1e90ff',3.5,7);
textS(1,1,msTicks.map((v,i)=>[-.157,v,msTickLabels[i]]),8,tickText(TXT,'center',1));
textS(1,2,gustTicks.map((v,i)=>[24.14,v,gustTickLabels[i]]),8,tickText('#1e90ff','center'));
// panel 2
marks(2,3,{areas:dayArea,z:1});marks(2,3,{lines:[...tempTicks.map(v=>({yAxis:v,lineStyle:dot('#666')})),nowLine,...vLines('#666')],z:3});
lineS(2,3,pair(temp2m),'#f80d0d',5,5);lineS(2,3,pair(dew2m),'#a52a2a',3.5,5);
series.push({type:'bar',xAxisIndex:2,yAxisIndex:4,data:showers,barWidth:48,itemStyle:{color:'#10d8bc'},silent:true,animation:false,z:4});
textS(2,3,tempTicks.map(v=>[-.1,v,String(v)]),8,tickText(TXT,'right'));
textS(2,4,precipTicks.map((v,i)=>[24.14,v,precipTickLabels[i]]),8,tickText('#0a50f0','center',1));
// panel 4 thermal-index pressure scale
tickS(4,6,[0,1,2,3],23.92,24,'#111');
textS(4,6,thermalHpa.map((t,i)=>[24.07,i,t]),8,tickText(TXT,'left'));
// panel 5
const bandCols=['#f6cf80','#eff87a','#d6f0a8','#68e88a'];
marks(5,9,{areas:soaringLimits.slice(0,-1).map((v,i)=>[{yAxis:v,itemStyle:{color:bandCols[i],opacity:1}},{yAxis:soaringLimits[i+1]}]),z:1});
marks(5,7,{lines:[...vLines('#777'),nowLine],z:3});
lineS(5,9,pair(soaring),'#e062c8',4.5,5);lineS(5,10,pair(lifted),'#f80d0d',5,6);lineS(5,8,pair(cape),'#3434f0',3,7);lineS(5,7,pair(updraft),'#000',3,8);
tickS(5,7,updraftTicks,-.74,0,'#111',9);tickS(5,8,capeTicks,-.05,.19,'#3434f0',9);tickS(5,9,soaringTicks,23.88,24,'#e062c8',9);tickS(5,10,liftedTicks,24,24.7,'#f80d0d',9);
textS(5,7,updraftTicks.map(v=>[-.76,v,v.toFixed(1)]),10,tickText(TXT,'right',1));
textS(5,8,capeTicks.map(v=>[-.06,v,String(v)]),10,tickText('#3434f0','right',1));
textS(5,9,soaringTicks.map(v=>[24.13,v,String(v)]),10,tickText('#e062c8','left',1));
textS(5,10,liftedTicks.map(v=>[24.74,v,String(v)]),10,tickText('#f80d0d','left',1));
// panel 6
polyS(6,11,lapseBands.map(b=>[b[0],b[1],b[2]]),1);
const hGrid=[600,700,800,850,900,950].map(v=>({yAxis:v,lineStyle:dot('#44566a')}));
marks(6,11,{lines:[...hGrid,...vLines('#44566a')],z:2});
polyS(6,11,conv.map(c=>[c,starFill]),3);polyS(6,11,clouds.map(c=>[c,hatchFill]),4);
[[rhTopA,'#f0a030'],[rhTopB,'#f0a030'],[rhTopC,'#f0a030'],[rh60up,'#ea6a2a'],[rh60low,'#ea6a2a'],[rh70left,'#e83a2a'],[rh70mid,'#e83a2a'],[rh40,'#f0a030'],[rh80,'#e040c0'],[rh90,'#a830e0']].forEach(a=>lineS(6,11,a[0],a[1],2.4,5));
lineS(6,11,pair(freezing),'#ffffff',8,6);lineS(6,11,pair(freezing),'#c4ecf8',5,7);lineS(6,11,pair(freezing),'#6cc4ef',5,7,{lineStyle:{color:'#6cc4ef',width:5,type:[7,7]}});
lineS(6,11,pair(boundaryH),'#ffffff',3.5,8);lineS(6,11,cloudBase,'#000',4,8);
marks(6,11,{lines:[nowLine],z:9});
textS(6,11,lapseLabels,10,it=>({fill:'#fff',font:font(18),rot:it[3]}));
textS(6,11,rhLabels,10,it=>({fill:it[3],font:font(18),rot:it[4]}));
// panel 7
polyS(7,13,windBands.map(b=>[b[0],b[1],b[2]]),1);
marks(7,13,{lines:[...hGrid,...vLines('#44566a')],z:2});
const windPts=[];windLevels.forEach((lv,r)=>windHours.forEach((h,c)=>windPts.push([h,lv,windBearing[r][c]])));
arrowS(7,13,windPts,'#555',23,1.9,6.5,9,true,3);
[[sh03a,'#6fae34'],[sh03b,'#6fae34'],[sh03c,'#6fae34'],[sh03d,'#6fae34'],[sh03e,'#6fae34'],[sh06a,'#a5c83a'],[sh06a2,'#a5c83a'],[sh06b,'#a5c83a'],[sh06b2,'#a5c83a'],[sh06c,'#a5c83a'],[sh06d,'#a5c83a'],[sh06e,'#a5c83a'],[sh06e2,'#a5c83a'],[sh06f,'#a5c83a'],[sh06g,'#a5c83a'],[sh06h,'#a5c83a'],[sh06i,'#a5c83a'],[sh08a,'#f3e050'],[sh08b,'#f3e050'],[sh08b2,'#f3e050'],[sh08c,'#f3e050'],[sh08c2,'#f3e050'],[sh08d,'#f3e050']].forEach(a=>lineS(7,13,a[0],a[1],4,5));
marks(7,13,{lines:[nowLine],z:6});
textS(7,13,speedLabels,7,it=>({fill:'#111',font:font(17),rot:it[3]}));
textS(7,13,shearLabels,7,it=>({fill:it[3],font:font(18),rot:it[4]}));
// altitude & pressure scales for the two contour panels
[[6,11,12],[7,13,14]].forEach(a=>{
 textS(a[0],a[1],levelLabels.map(l=>[-.065,l[0],l[1]]),10,()=>({fill:TXT,font:font(22),align:'right',dy:2.5,lh:23}));
 textS(a[0],a[2],pressureTicks.map(v=>[24.05,v,String(v)]),10,tickText(TXT,'left',2.5));
});

const xAxis=grids.map((g,i)=>({type:'value',gridIndex:i,min:0,max:24,interval:3,splitLine:{show:false},axisLine:{show:false},
 axisTick:{show:!!labelGrids[i],inside:true,length:5,lineStyle:{color:'#111',width:1}},
 axisLabel:{show:!!labelGrids[i],margin:6,color:TXT,fontFamily:FF,fontSize:21,hideOverlap:false,showMinLabel:true,showMaxLabel:true,formatter:v=>hourLabels[v]||''}}));
const yBase=(g,min,max,o)=>Object.assign({type:'value',gridIndex:g,min,max,position:'left',splitLine:{show:false},axisLine:{show:false},axisTick:{show:false},axisLabel:{show:false}},o||{});
const yAxis=[
 yBase(0,0,1),
 yBase(1,0,4.52),
 yBase(1,-.27,5.82,{position:'right'}),
 yBase(2,9.19,30.86),
 yBase(2,0,5,{position:'right'}),
 yBase(3,0,1),
 {type:'category',gridIndex:4,position:'right',data:thermalHpa,axisLine:{show:false},splitLine:{show:false},axisTick:{show:false},axisLabel:{show:false}},
 yBase(5,1,3.5),
 yBase(5,0,1100),
 yBase(5,-20,45,{position:'right'}),
 yBase(5,-8,5,{position:'right',inverse:true}),
];
[6,7].forEach(g=>{
 yAxis.push(yBase(g,500,1000,{inverse:true}));
 yAxis.push(yBase(g,500,1000,{inverse:true,position:'right'}));
});
const T=(text,x,y,size,o)=>{o=o||{};return{type:'text',x,y:o.rot?y:y+2.5,silent:true,z:50,rotation:o.rot||0,scaleX:o.sx||1,style:{text,font:o.font||font(size),fill:o.fill||TXT,align:o.align||'center',verticalAlign:'middle'}};};
const UP=Math.PI/2;
const R=(x,y,w,h,fill,stroke)=>({type:'rect',silent:true,z:50,shape:{x,y,width:w,height:h},style:{fill,stroke:stroke||null,lineWidth:1.5}});
const g=[
 T('meteoblue',2087,42,0,{align:'right',font:'600 46px "Open Sans"',fill:'#16456e',sx:.88}),
 T('®',2091,27,0,{font:'9px "DejaVu Sans"',fill:'#16456e'}),
 T('41.34°N, 21.37°E (594 m asl)',45,74,24,{align:'left'}),
 T('Surface conditions',1125,108,24),T('Fri 14.08',1125,135,22),
 T('Wind 80 m',201,165,24,{align:'right',fill:'#7fb021'}),T('Wind 10 m',201,197,24,{align:'right',fill:'#2a6e42'}),
 T('(m/s)',184,282,23,{rot:UP}),T('Temperature (°C)',123,427,24,{rot:UP}),
 T('Gust factor',2056,242,24,{rot:UP,fill:'#1e90ff'}),T('(m/s)',2087,245,23,{rot:UP,fill:'#1e90ff'}),
 T('Precipitation (mm/h)',2083,427,24,{rot:UP,fill:'#0a50f0'}),
 {type:'line',silent:true,z:50,shape:{x1:229,y1:523,x2:273,y2:523},style:{stroke:'#f80d0d',lineWidth:4}},T('2m Temperature',287,522,20,{align:'left'}),
 {type:'line',silent:true,z:50,shape:{x1:493,y1:523,x2:535,y2:523},style:{stroke:'#a52a2a',lineWidth:3}},T('2m Dew point temp.',551,522,20,{align:'left'}),
 R(1665,516,40,14,'#0a50f0'),T('Precipitation',1715,522,20,{align:'left'}),R(1857,516,40,14,'#10d8bc'),T('Showers',1907,522,20,{align:'left'}),
 T('Stability indices',1125,581,24),
 T('Max. height',230,628,23,{align:'right'}),T('Thermal index',231,693,24,{align:'right'}),
 T('dry thermals: 3645 m / 11960 ft',1125,617,22),T('soaring: 2991 m / 9815 ft',1125,641,22),
 ...thermalIndex.map((t,i)=>T(t,1125,668.6+i*23.6,22)),
 T('hPa',2084,709,24,{rot:UP}),
 T('Updraft velocity',45,863,24,{rot:UP}),T('(m/s)',80,862,23,{rot:UP}),T('CAPE (J/kg)',117,860,24,{rot:UP,fill:'#3434f0'}),
 T('Soaring index',2114,863,24,{rot:UP,fill:'#e062c8'}),T('Lifted index',2146,863,24,{rot:UP,fill:'#f80d0d'}),
 T('Thermals',167,1006,20),
 ...['#c47ed6','#9a8fdc','#7bbfcf','#d0ecf5'].map((c,i)=>R(241+i*132.5,995,132.5,19,c)),R(241,995,530,19,'transparent','#222'),
 ...['Strong','Moderate','Light','Weak'].map((t,i)=>T(t,307+i*132.5,1003,20)),
 T('Soaring conditions',1452,1006,20,{align:'right'}),
 ...bandCols.map((c,i)=>R(1478+i*132.5,996,132.5,19,c)),R(1478,996,530,19,'transparent','#222'),
 ...['poor','moderate','good','excellent'].map((t,i)=>T(t,1544+i*132.5,1004,20)),
 T('Lapse rate / Humidity / Clouds',1125,1061,24),
 R(241,1746,20,8,'#000'),T('Convective cloud base',276,1749,20,{align:'left'}),
 R(523,1746,21,8,'#fff','#222'),T('Boundary layer height',560,1749,20,{align:'left'}),
 T('Rel. Humidity (%): colored lines',840,1749,20,{align:'left'}),T('0°C: dashed line',1211,1749,20,{align:'left'}),
 T('Convective clouds',1415,1750,20,{align:'left'}),R(1602,1744,88,14,legendStarFill,'#222'),
 T('Cloud cover',1797,1750,20,{align:'left'}),R(1920,1744,88,14,hatchFill,'#222'),
 T('Altitude approx.',122,1396,24,{rot:UP}),T('Pressure (hPa)',2083,1396,24,{rot:UP}),
 T('Horizontal wind / Vertical wind shear',1125,1811,24),
 T('Altitude approx.',122,2146,24,{rot:UP}),T('Pressure (hPa)',2083,2146,24,{rot:UP}),
 T('Last update: 2026-08-14 12:09',43,2504,22,{align:'left',fill:'#888'}),
 T('Wind speed (m/s)',382,2504,20,{align:'left'}),
 ...['#4a20c0','#1c18b8','#1830c8','#2f60d8','#5080e0','#60b0f0','#80d8b0','#a0e090','#d0e870','#f5b030','#ff9000','#ff7000','#ff4c00','#ff2000'].map((c,i)=>R(594+i*50.5,2493,50.5,19,c)),
 ...speedBar.map((t,i)=>T(t,619+i*50.5,2501,20)),
 T('Wind shear (m/s per 100 m)',1355,2504,20,{align:'left'}),
 ...['#6aa832','#a4c83a','#f2e45a','#f0b850','#f03030'].map((c,i)=>R(1655+i*70.6,2493,70.6,19,c)),
 ...shearBar.map((t,i)=>T(t,1690+i*70.6,2501,20)),
];
chart.setOption({animation:false,backgroundColor:'#fafafa',textStyle:{fontFamily:FF},
 grid:grids.map(a=>({left:X0,top:a[0],width:XW,height:a[1],show:true,backgroundColor:'#fafafa',borderColor:'#222',borderWidth:1.8,containLabel:false})),
 xAxis,yAxis,series,graphic:{elements:g}});
</script></body></html>
